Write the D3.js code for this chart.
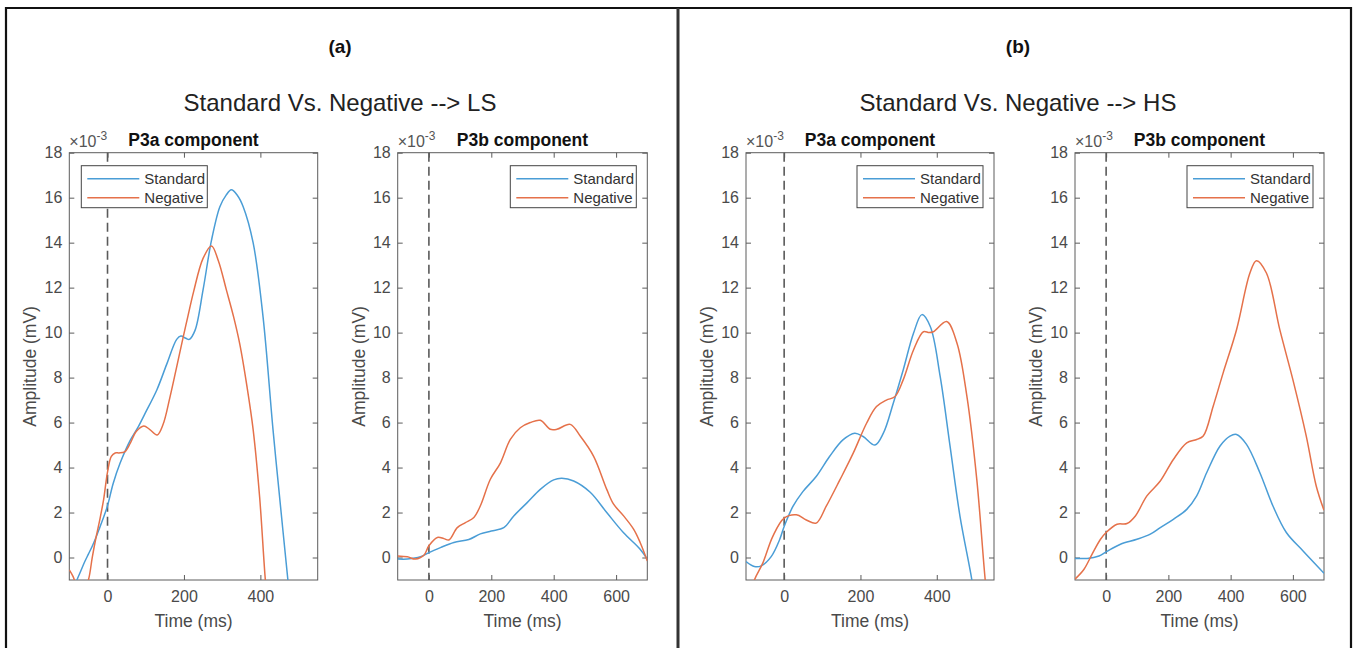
<!DOCTYPE html>
<html>
<head>
<meta charset="utf-8">
<script src="https://cdn.jsdelivr.net/npm/d3@7"></script>
<style>
  body { margin: 0; background: #fff; }
  svg { display: block; font-family: "Liberation Sans", Arial, sans-serif; }
</style>
</head>
<body>
<div id="chart"></div>
<script>
// amplitudes in units of 1e-3 mV, time in ms
const yTicks = [0, 2, 4, 6, 8, 10, 12, 14, 16, 18];
const xTicksP3a = [0, 200, 400];
const xTicksP3b = [0, 200, 400, 600];
const seriesNames = ["Standard", "Negative"];

const lsP3aStandard = [[-100,-1.9],[-90,-1.5],[-80,-1.0],[-70,-0.6],[-60,-0.2],[-50,0.15],[-40,0.5],[-30,0.9],[-20,1.35],[-10,1.8],[0,2.3],[15,3.3],[33,4.2],[59,5.2],[80,5.8],[98,6.4],[129,7.45],[155,8.6],[181,9.7],[192,9.85],[205,9.75],[214,9.7],[229,10.1],[250,11.9],[272,14.1],[294,15.6],[310,16.1],[324,16.35],[340,16.1],[355,15.6],[381,14.0],[407,10.7],[433,5.7],[459,1.2],[472,-1.0],[480,-2.2]];
const lsP3aNegative = [[-100,-0.55],[-90,-0.85],[-80,-1.3],[-65,-1.6],[-50,-1.0],[-40,0.0],[-30,0.9],[-20,1.7],[-10,2.6],[0,3.8],[10,4.5],[20,4.65],[30,4.65],[45,4.7],[60,5.1],[75,5.6],[95,5.85],[110,5.7],[130,5.45],[145,5.9],[163,7.1],[180,8.4],[198,9.8],[210,10.7],[225,11.8],[250,13.3],[272,13.85],[290,13.2],[311,11.9],[330,10.7],[346,9.5],[365,7.6],[381,5.7],[398,2.7],[413,-1.0],[420,-2.2]];

const lsP3bStandard = [[-100,-0.07],[-69,-0.07],[-27,0.03],[0,0.22],[37,0.44],[80,0.67],[128,0.8],[165,1.05],[200,1.18],[240,1.33],[272,1.85],[315,2.44],[357,3.03],[400,3.45],[426,3.52],[464,3.4],[517,2.9],[570,2.0],[624,1.1],[677,0.37],[700,-0.07]];
const lsP3bNegative = [[-100,0.07],[-69,0.03],[-43,-0.07],[-16,0.1],[0,0.52],[27,0.89],[48,0.84],[64,0.78],[91,1.33],[117,1.55],[144,1.78],[165,2.3],[197,3.48],[229,4.2],[261,5.25],[293,5.77],[325,6.0],[357,6.1],[389,5.7],[410,5.7],[453,5.92],[485,5.4],[528,4.5],[570,3.03],[592,2.37],[624,1.85],[656,1.26],[677,0.67],[700,-0.15]];

const hsP3aStandard = [[-100,-0.18],[-78,-0.4],[-60,-0.37],[-34,0.04],[-12,0.79],[0,1.38],[23,2.27],[49,2.93],[84,3.6],[119,4.49],[154,5.23],[185,5.53],[207,5.38],[238,5.0],[260,5.53],[286,6.86],[312,8.34],[339,9.97],[361,10.8],[383,10.27],[409,8.04],[435,4.93],[461,1.82],[492,-1.0],[500,-2.0]];
const hsP3aNegative = [[-90,-1.9],[-78,-1.0],[-56,-0.25],[-30,0.93],[0,1.75],[32,1.9],[58,1.67],[84,1.53],[110,2.27],[146,3.45],[181,4.64],[216,5.97],[242,6.71],[268,7.0],[290,7.15],[312,7.9],[339,9.23],[365,10.04],[380,10.0],[391,10.04],[426,10.49],[453,9.53],[479,7.16],[505,3.45],[527,-1.0],[535,-2.2]];

const hsP3bStandard = [[-100,-0.04],[-61,-0.04],[-23,0.07],[0,0.25],[46,0.59],[99,0.81],[142,1.04],[174,1.33],[216,1.7],[259,2.14],[291,2.74],[323,3.77],[366,4.96],[398,5.4],[419,5.47],[451,5.03],[494,3.77],[536,2.29],[579,1.11],[632,0.3],[700,-0.7]];
const hsP3bNegative = [[-100,-0.96],[-71,-0.52],[-45,0.15],[-18,0.81],[0,1.11],[35,1.48],[67,1.51],[94,1.85],[131,2.74],[174,3.4],[216,4.36],[259,5.1],[291,5.25],[312,5.4],[344,6.73],[376,8.21],[419,10.13],[462,12.65],[483,13.2],[515,12.65],[558,10.13],[600,7.91],[643,5.4],[675,3.18],[700,2.1]];

const width = 1357, height = 648;
const colors = ["#4a9dd6", "#e5714a"];
const axisColor = "#5c5c5c";

const svg = d3.select("#chart").append("svg")
  .attr("width", width).attr("height", height);

// outer frame
svg.append("path")
  .attr("d", `M6,${height + 5}V8H1351V${height + 5}`)
  .attr("fill", "none").attr("stroke", "#111").attr("stroke-width", 2.2);
svg.append("line")
  .attr("x1", 678).attr("x2", 678).attr("y1", 8).attr("y2", height + 5)
  .attr("stroke", "#333").attr("stroke-width", 3);

const groups = [
  { label: "(a)", title: "Standard Vs. Negative --> LS", cx: 340 },
  { label: "(b)", title: "Standard Vs. Negative --> HS", cx: 1018 }
];
groups.forEach(g => {
  svg.append("text").attr("x", g.cx).attr("y", 53).attr("text-anchor", "middle")
    .attr("font-weight", "bold").attr("font-size", 19).attr("fill", "#111").text(g.label);
  svg.append("text").attr("x", g.cx).attr("y", 111).attr("text-anchor", "middle")
    .attr("font-size", 24).attr("fill", "#222").text(g.title);
});

const panels = [
  { left: 69.3, right: 317.7, xmax: 550, ticks: xTicksP3a, title: "P3a component", data: [lsP3aStandard, lsP3aNegative], legend: "left" },
  { left: 397.7, right: 647.3, xmax: 700, ticks: xTicksP3b, title: "P3b component", data: [lsP3bStandard, lsP3bNegative], legend: "right" },
  { left: 746, right: 994, xmax: 550, ticks: xTicksP3a, title: "P3a component", data: [hsP3aStandard, hsP3aNegative], legend: "right" },
  { left: 1075, right: 1324, xmax: 700, ticks: xTicksP3b, title: "P3b component", data: [hsP3bStandard, hsP3bNegative], legend: "right" }
];

const plotTop = 152.7, plotBottom = 580;

panels.forEach((p, i) => {
  const x = d3.scaleLinear([-100, p.xmax], [p.left, p.right]);
  const y = d3.scaleLinear([-1, 18], [plotBottom, plotTop]);
  const g = svg.append("g");

  g.append("clipPath").attr("id", "clip" + i)
    .append("rect").attr("x", p.left).attr("y", plotTop)
    .attr("width", p.right - p.left).attr("height", plotBottom - plotTop);

  // axes with inward ticks on all four sides
  const styleAxis = sel => {
    sel.select(".domain").remove();
    sel.selectAll("line").attr("stroke", axisColor);
    sel.selectAll("text").attr("fill", "#4a4a4a").attr("font-size", 16);
  };
  g.append("g").attr("transform", `translate(0,${plotBottom})`)
    .call(d3.axisBottom(x).tickValues(p.ticks).tickSize(-5).tickPadding(11))
    .call(styleAxis);
  g.append("g").attr("transform", `translate(0,${plotTop})`)
    .call(d3.axisTop(x).tickValues(p.ticks).tickSize(-5).tickFormat(""))
    .call(styleAxis);
  g.append("g").attr("transform", `translate(${p.left},0)`)
    .call(d3.axisLeft(y).tickValues(yTicks).tickSize(-5).tickPadding(7))
    .call(styleAxis);
  g.append("g").attr("transform", `translate(${p.right},0)`)
    .call(d3.axisRight(y).tickValues(yTicks).tickSize(-5).tickFormat(""))
    .call(styleAxis);

  g.append("rect")
    .attr("x", p.left).attr("y", plotTop)
    .attr("width", p.right - p.left).attr("height", plotBottom - plotTop)
    .attr("fill", "none").attr("stroke", axisColor).attr("stroke-width", 1);

  // stimulus onset
  g.append("line")
    .attr("x1", x(0)).attr("x2", x(0)).attr("y1", plotTop).attr("y2", plotBottom)
    .attr("stroke", "#5a5a5a").attr("stroke-width", 1.6).attr("stroke-dasharray", "9,5");

  const line = d3.line()
    .x(d => x(d[0])).y(d => y(d[1]))
    .curve(d3.curveCatmullRom.alpha(0.5));

  g.append("g").attr("clip-path", `url(#clip${i})`)
    .selectAll("path")
    .data(p.data)
    .join("path")
    .attr("d", line)
    .attr("fill", "none")
    .attr("stroke", (d, k) => colors[k])
    .attr("stroke-width", 1.5);

  // titles and labels
  g.append("text").attr("x", (p.left + p.right) / 2).attr("y", 146)
    .attr("text-anchor", "middle").attr("font-weight", "bold").attr("font-size", 17.5)
    .attr("fill", "#111").text(p.title);
  const exp = g.append("text").attr("x", p.left).attr("y", 147)
    .attr("font-size", 16).attr("fill", "#555");
  exp.append("tspan").text("\u00d710");
  exp.append("tspan").attr("dy", -7).attr("font-size", 12).text("-3");

  g.append("text").attr("x", (p.left + p.right) / 2).attr("y", 627)
    .attr("text-anchor", "middle").attr("font-size", 17.5).attr("fill", "#4a4a4a")
    .text("Time (ms)");
  g.append("text")
    .attr("transform", `translate(${p.left - 33},${(plotTop + plotBottom) / 2}) rotate(-90)`)
    .attr("text-anchor", "middle").attr("font-size", 17.5).attr("fill", "#4a4a4a")
    .text("Amplitude (mV)");

  // legend
  const lw = 126, lh = 42;
  const lx = p.legend === "left" ? p.left + 12 : p.right - 11 - lw;
  const ly = plotTop + 13;
  const leg = g.append("g").attr("transform", `translate(${lx},${ly})`);
  leg.append("rect").attr("width", lw).attr("height", lh)
    .attr("fill", "#fff").attr("stroke", "#444").attr("stroke-width", 1);
  seriesNames.forEach((name, k) => {
    const yy = 13 + k * 19;
    leg.append("line").attr("x1", 6).attr("x2", 58).attr("y1", yy).attr("y2", yy)
      .attr("stroke", colors[k]).attr("stroke-width", 1.5);
    leg.append("text").attr("x", 63).attr("y", yy + 5.5)
      .attr("font-size", 15).attr("fill", "#333").text(name);
  });
});
</script>
</body>
</html>
